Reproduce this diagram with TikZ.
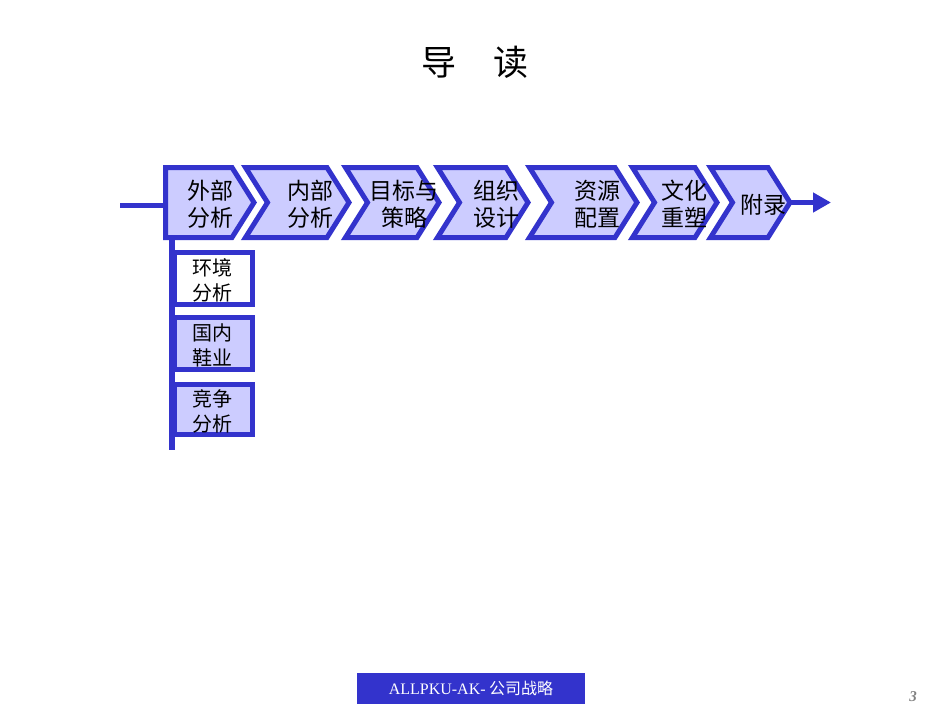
\documentclass[tikz,border=0pt]{standalone}
\usepackage{fontspec}
\setmainfont{Noto Sans CJK SC}
\newfontfamily\footfont{Liberation Serif}
\usetikzlibrary{arrows.meta}
\definecolor{chevblue}{RGB}{51,51,204}
\definecolor{chevfill}{RGB}{204,204,255}

\begin{document}
\begin{tikzpicture}
    [x=1pt, y=-1pt,
     chev/.style={draw=chevblue, fill=chevfill, line width=5pt, line join=miter},
     subbox/.style={draw=chevblue, line width=5pt},
     label/.style={align=center, inner sep=0pt, font=\fontsize{23}{27}\selectfont},
     sublabel/.style={align=center, inner sep=0pt, font=\fontsize{20}{25}\selectfont},
     link/.style={draw=chevblue, line width=5pt}]
    \useasboundingbox (0,0) rectangle (950,713);
    \node (title) at (475,62) {\fontsize{35}{40}\selectfont 导\hspace{37pt}读};

    \coordinate (start) at (120,205);
    \coordinate (c1w) at (166,205);
    \coordinate (c1s) at (172,238);
    \coordinate (down) at (172,450);
    \coordinate (c7e) at (789,202.5);
    \coordinate (end) at (831,202.5);
    \draw[link] (start) -- (c1w);
    \draw[link, line width=6pt] (c1s) -- (down);

    \draw[chev] (165.5,167.5) -- (232,167.5) -- (254,202.5) -- (232,237.5) -- (165.5,237.5) -- cycle;
    \draw[chev] (245.5,167.5) -- (327,167.5) -- (349,202.5) -- (327,237.5) -- (245.5,237.5) -- (267.5,202.5) -- cycle;
    \draw[chev] (345.5,167.5) -- (417,167.5) -- (439,202.5) -- (417,237.5) -- (345.5,237.5) -- (367.5,202.5) -- cycle;
    \draw[chev] (437.5,167.5) -- (506,167.5) -- (528,202.5) -- (506,237.5) -- (437.5,237.5) -- (459.5,202.5) -- cycle;
    \draw[chev] (529.5,167.5) -- (615,167.5) -- (637,202.5) -- (615,237.5) -- (529.5,237.5) -- (551.5,202.5) -- cycle;
    \draw[chev] (632.5,167.5) -- (695,167.5) -- (717,202.5) -- (695,237.5) -- (632.5,237.5) -- (654.5,202.5) -- cycle;
    \draw[chev] (710.5,167.5) -- (768,167.5) -- (790,202.5) -- (768,237.5) -- (710.5,237.5) -- (732.5,202.5) -- cycle;
    \draw[link, -{Triangle[length=18pt, width=19pt]}] (c7e) -- (end);

    \node[label] (waibu) at (210,204) {外部\\分析};
    \node[label] (neibu) at (310,204) {内部\\分析};
    \node[label] (mubiao) at (404,204) {目标与\\策略};
    \node[label] (zuzhi) at (496,204) {组织\\设计};
    \node[label] (ziyuan) at (597,204) {资源\\配置};
    \node[label] (wenhua) at (684,204) {文化\\重塑};
    \node[label] (fulu) at (763,205) {附录};

    \draw[subbox, fill=white] (174.5,252.5) rectangle (252.5,304.5);
    \draw[subbox, fill=chevfill] (174.5,317.5) rectangle (252.5,369.5);
    \draw[subbox, fill=chevfill] (174.5,384.5) rectangle (252.5,434.5);
    \node[sublabel] (huanjing) at (212,280) {环境\\分析};
    \node[sublabel] (guonei) at (212,345) {国内\\鞋业};
    \node[sublabel] (jingzheng) at (212,411) {竞争\\分析};

    \node[fill=chevblue, minimum width=228pt, minimum height=31pt, inner sep=0pt,
          text=white, font=\fontsize{16}{19}\selectfont] (footer) at (471,688.5)
          {{\footfont ALLPKU-AK-} 公司战略};
    \node[text=gray, font=\footfont\bfseries\itshape\fontsize{15}{18}\selectfont] (page) at (913,697) {3};
\end{tikzpicture}
\end{document}
